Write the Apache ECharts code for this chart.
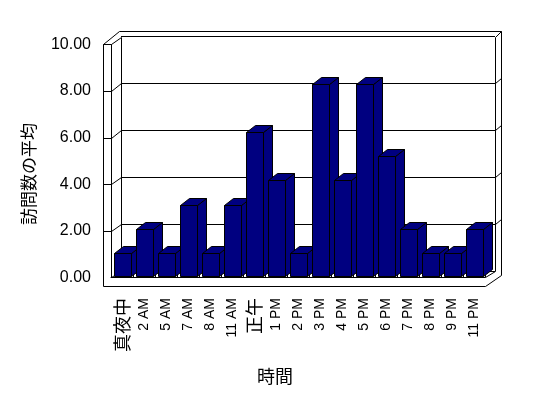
<!DOCTYPE html>
<html>
<head>
<meta charset="utf-8">
<script src="https://cdn.jsdelivr.net/npm/echarts@6/dist/echarts.min.js"></script>
<style>
  html, body { margin: 0; padding: 0; background: #fff; }
  #chart { width: 548px; height: 398px; }
</style>
</head>
<body>
<div id="chart"></div>
<script>
var hours = ['真夜中', '2 AM', '5 AM', '7 AM', '8 AM', '11 AM', '正午', '1 PM', '2 PM', '3 PM', '4 PM', '5 PM', '6 PM', '7 PM', '8 PM', '9 PM', '11 PM'];
var avgVisits = [1, 2, 1, 3, 1, 3, 6, 4, 1, 8, 4, 8, 5, 2, 1, 1, 2];
var yTicks = [0, 2, 4, 6, 8, 10];

// layout of the 3d box (pixels)
var OUTER_X = 103, INNER_X = 111, BACK_X0 = 121, BACK_X1 = 495, OUTER_X1 = 501;
var OUTER_TOP = 31, FLOOR_BOTTOM = 286;
var DEPTH_X = 9, DEPTH_Y = -7;
var NAVY = '#000080';
var LATIN = "'Liberation Sans', Arial, sans-serif";
var CJK = "'Noto Sans CJK JP', sans-serif";

var myChart = echarts.init(document.getElementById('chart'));

function isCjk(s) {
    return /[\u3000-\u9fff]/.test(s);
}

var option = {
    animation: false,
    backgroundColor: '#fff',
    grid: [
        // bars
        {left: INNER_X, right: 548 - 485, top: 35.5, bottom: 121},
        // back wall
        {left: BACK_X0, right: 548 - BACK_X1, top: 36.5, bottom: 127},
        // front axis
        {left: OUTER_X, right: 548 - INNER_X, top: 44.3, bottom: 398 - 277.3}
    ],
    xAxis: [
        {
            type: 'category',
            gridIndex: 0,
            data: hours,
            offset: 9,
            axisLine: {show: true, lineStyle: {color: '#000', width: 1}},
            axisTick: {show: true, inside: true, length: 9, interval: 0, lineStyle: {color: '#000'}},
            axisLabel: {
                interval: 0,
                rotate: 90,
                margin: 12,
                color: '#000',
                formatter: function (v) {
                    return isCjk(v) ? '{c|' + v + '}' : '{l|' + v + '}';
                },
                rich: {
                    c: {fontFamily: CJK, fontSize: 18, color: '#000'},
                    l: {fontFamily: LATIN, fontSize: 14, color: '#000'}
                }
            }
        },
        {type: 'value', gridIndex: 1, show: false},
        {type: 'value', gridIndex: 2, show: false}
    ],
    yAxis: [
        {type: 'value', gridIndex: 0, min: 0, max: 10, interval: 2, show: false},
        {
            type: 'value', gridIndex: 1, min: 0, max: 10, interval: 2,
            axisLine: {show: false}, axisTick: {show: false}, axisLabel: {show: false},
            splitLine: {show: true, lineStyle: {color: '#000', width: 1}}
        },
        {
            type: 'value', gridIndex: 2, min: 0, max: 10, interval: 2,
            axisLine: {show: false}, axisTick: {show: false}, splitLine: {show: false},
            axisLabel: {
                margin: 12,
                color: '#000',
                fontFamily: LATIN,
                fontSize: 16,
                formatter: function (v) { return v.toFixed(2); }
            }
        }
    ],
    series: [
        {
            type: 'custom',
            xAxisIndex: 0,
            yAxisIndex: 0,
            z: 3,
            data: avgVisits.map(function (v, i) { return [i, v]; }),
            renderItem: function (params, api) {
                var base = api.coord([api.value(0), 0]);
                var top = api.coord([api.value(0), api.value(1)]);
                var bw = Math.round(api.size([1, 0])[0] * 0.79);
                var x0 = Math.round(base[0] - bw / 2 + 0.7) + 0.5;
                var x1 = x0 + bw;
                var y0 = Math.round(base[1]) - 0.5;
                var y1 = Math.round(top[1]) + 0.5;
                var style = {fill: NAVY, stroke: '#000', lineWidth: 1};
                return {
                    type: 'group',
                    children: [
                        {type: 'polygon', shape: {points: [[x1, y0], [x1 + DEPTH_X, y0 + DEPTH_Y], [x1 + DEPTH_X, y1 + DEPTH_Y], [x1, y1]]}, style: style},
                        {type: 'polygon', shape: {points: [[x0, y1], [x1, y1], [x1 + DEPTH_X, y1 + DEPTH_Y], [x0 + DEPTH_X, y1 + DEPTH_Y]]}, style: style},
                        {type: 'rect', shape: {x: x0, y: y1, width: bw, height: y0 - y1}, style: style}
                    ]
                };
            }
        }
    ]
};
myChart.setOption(option);

// wall and floor frame, placed from the axes
function px(v) { return Math.round(v) + 0.5; }
function line(x1, y1, x2, y2) {
    return {type: 'line', silent: true, z: 1, shape: {x1: px(x1), y1: px(y1), x2: px(x2), y2: px(y2)}, style: {stroke: '#000', lineWidth: 1}};
}
var yf = function (v) { return myChart.convertToPixel({yAxisIndex: 2}, v); };
var yb = function (v) { return myChart.convertToPixel({yAxisIndex: 1}, v); };
var floorX1 = myChart.convertToPixel({gridIndex: 0}, [hours.length - 1, 0])[0] + 11;

var lines = [
    line(OUTER_X, yf(10), OUTER_X, FLOOR_BOTTOM),
    line(INNER_X, yf(10), INNER_X, yf(0)),
    line(OUTER_X, yf(10), INNER_X, yf(10)),
    line(OUTER_X, yf(10), OUTER_X + 16, OUTER_TOP),
    line(OUTER_X + 16, OUTER_TOP, OUTER_X1, OUTER_TOP),
    line(BACK_X0, yb(10), BACK_X0, yb(0)),
    line(BACK_X1, yb(10), BACK_X1, yb(0)),
    line(OUTER_X1, OUTER_TOP, OUTER_X1, FLOOR_BOTTOM - 11),
    line(BACK_X1, yb(10), OUTER_X1, OUTER_TOP),
    line(INNER_X, yf(0), floorX1, yf(0)),
    line(OUTER_X, FLOOR_BOTTOM, floorX1, FLOOR_BOTTOM),
    line(floorX1, FLOOR_BOTTOM, OUTER_X1, FLOOR_BOTTOM - 11),
    line(floorX1, yf(0), BACK_X1, yb(0))
];
yTicks.forEach(function (t) {
    lines.push(line(INNER_X, yf(t), BACK_X0, yb(t)));
    if (t > 0) {
        lines.push(line(OUTER_X, yf(t), INNER_X, yf(t)));
    }
    if (t > 0 && t < 10) {
        lines.push(line(BACK_X1, yb(t), OUTER_X1, yb(t) - 5));
    }
});
lines.push({
    type: 'text', silent: true, x: 29, y: 174, rotation: Math.PI / 2,
    style: {text: '訪問数の平均', fontFamily: CJK, fontSize: 17, fill: '#000', align: 'center', verticalAlign: 'middle'}
});
lines.push({
    type: 'text', silent: true, x: 275, y: 376,
    style: {text: '時間', fontFamily: CJK, fontSize: 18, fill: '#000', align: 'center', verticalAlign: 'middle'}
});
myChart.setOption({graphic: lines});
</script>
</body>
</html>
